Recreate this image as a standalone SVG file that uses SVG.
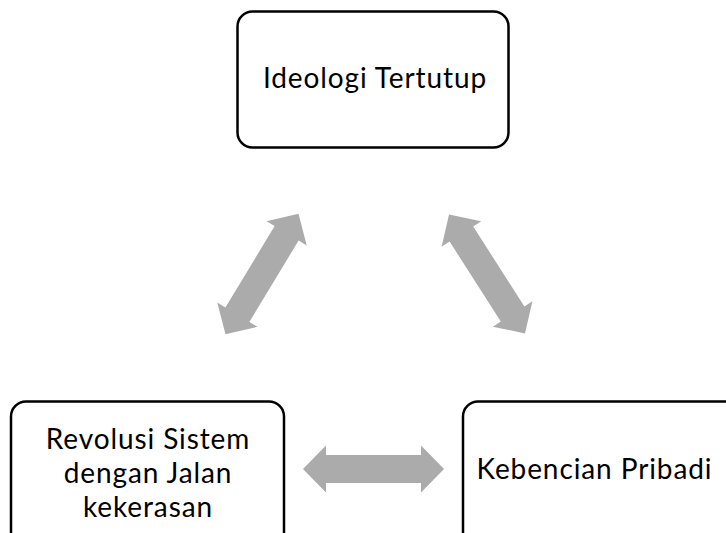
<svg xmlns="http://www.w3.org/2000/svg" width="726" height="533" viewBox="0 0 726 533">
<style>
.box{fill:#fff;stroke:#000;stroke-width:2.5}
.t{font-family:Lato,"Open Sans",sans-serif;font-size:28px;letter-spacing:0.9px;fill:#000;text-anchor:middle}
.arr{fill:#ABABAB}
</style>
<defs>
<path id="dbl" d="M -70.5 0 L -47.5 -23.5 L -47.5 -14 L 47.5 -14 L 47.5 -23.5 L 70.5 0 L 47.5 23.5 L 47.5 14 L -47.5 14 L -47.5 23.5 Z"/>
</defs>
<rect width="726" height="533" fill="#fff"/>
<g id="connectors">
<use href="#dbl" class="arr" transform="translate(262,274) rotate(-58.8)"/>
<use href="#dbl" class="arr" transform="translate(487,274) rotate(57.4)"/>
<use href="#dbl" class="arr" transform="translate(373.5,469)"/>
</g>
<g id="ideologi">
<rect class="box" x="237.5" y="11.5" width="271" height="136" rx="15"/>
<text class="t" x="375" y="88">Ideologi Tertutup</text>
</g>
<g id="revolusi">
<rect class="box" x="11" y="401.5" width="273" height="150" rx="15"/>
<text class="t" x="148" y="449">Revolusi Sistem</text>
<text class="t" x="148" y="483">dengan Jalan</text>
<text class="t" x="148" y="517">kekerasan</text>
</g>
<g id="kebencian">
<rect class="box" x="463" y="401.5" width="300" height="150" rx="15"/>
<text class="t" x="594.5" y="479">Kebencian Pribadi</text>
</g>
</svg>
